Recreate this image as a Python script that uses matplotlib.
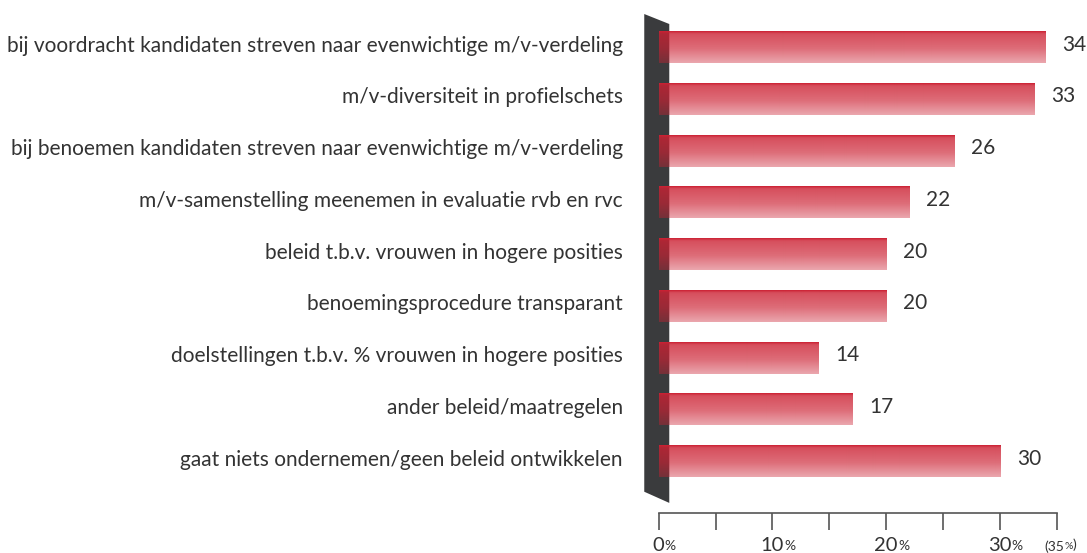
import matplotlib.pyplot as plt
import numpy as np
from matplotlib.patches import Polygon

# data, top to bottom
labels = [
    'bij voordracht kandidaten streven naar evenwichtige m/v-verdeling',
    'm/v-diversiteit in profielschets',
    'bij benoemen kandidaten streven naar evenwichtige m/v-verdeling',
    'm/v-samenstelling meenemen in evaluatie rvb en rvc',
    'beleid t.b.v. vrouwen in hogere posities',
    'benoemingsprocedure transparant',
    'doelstellingen t.b.v. % vrouwen in hogere posities',
    'ander beleid/maatregelen',
    'gaat niets ondernemen/geen beleid ontwikkelen',
]
values = [34, 33, 26, 22, 20, 20, 14, 17, 30]
tick_vals = [0, 10, 20, 30]

plt.rcParams['font.family'] = ['Lato', 'DejaVu Sans']
txt_col = '#333333'

fig = plt.figure(figsize=(10.87, 5.53), dpi=100)
# axes: x from 0 to 35 between px 658.7 and 1056.7, bottom at axis line (px 513)
ax = fig.add_axes([658.7 / 1087, 1 - 513 / 553, 398 / 1087, 513 / 553])
ax.set_xlim(0, 35)
ax.set_ylim(8.995, -0.918)

# dark backing shape
shape = Polygon([(-1.27, -0.647), (0.93, -0.454), (0.93, 8.80), (-1.27, 8.584)],
                closed=True, facecolor='#3a3b3d', edgecolor='none', zorder=1, clip_on=False)
ax.add_patch(shape)

# vertical gradient: red with decreasing alpha
n = 64
t = np.linspace(0, 1, n)
alpha = np.interp(t, [0, 0.08, 0.55, 1], [1.0, 0.8, 0.66, 0.4])
grad = np.zeros((n, 1, 4))
grad[:, 0, 0] = 0.80
grad[:, 0, 1] = 0.13
grad[:, 0, 2] = 0.20
grad[:, 0, 3] = alpha

h = 0.3
for i, v in enumerate(values):
    ax.imshow(grad, extent=[0, v, i + h, i - h], aspect='auto', zorder=2,
              interpolation='bilinear', clip_on=False)
    ax.annotate(str(v), xy=(v, i), xytext=(17, 3), textcoords='offset pixels',
                ha='left', va='center', fontsize=15, color=txt_col)
    ax.annotate(labels[i], xy=(0, i), xytext=(-36, 2), textcoords='offset pixels',
                ha='right', va='center', fontsize=15, color=txt_col,
                annotation_clip=False)

ax.set_xlim(0, 35)
ax.set_ylim(8.995, -0.918)

for s in ['top', 'right', 'left']:
    ax.spines[s].set_visible(False)
ax.spines['bottom'].set_color('#555555')
ax.spines['bottom'].set_linewidth(1.2)
ax.set_yticks([])
ax.set_xticks(np.arange(0, 36, 5))
ax.set_xticklabels([])
ax.tick_params(axis='x', direction='out', length=12, width=1.2, color='#555555')

# tick labels with small percent sign
for tv in tick_vals:
    num = ax.annotate(str(tv), xy=(tv, 0), xycoords=('data', 'axes fraction'),
                      xytext=(0, -24), textcoords='offset pixels',
                      ha='center', va='top', fontsize=14.5, color=txt_col)
    ax.annotate('%', xy=(1, 0.1), xycoords=num, ha='left', va='bottom',
                fontsize=10, color=txt_col)
lab35 = ax.annotate('(35', xy=(35, 0), xycoords=('data', 'axes fraction'),
                    xytext=(-12, -27), textcoords='offset pixels',
                    ha='left', va='top', fontsize=10, color=txt_col)
pct = ax.annotate('%', xy=(1, 0.1), xycoords=lab35, ha='left', va='bottom',
                  fontsize=7.5, color=txt_col)
ax.annotate(')', xy=(1, 0), xycoords=pct, ha='left', va='bottom',
            fontsize=10, color=txt_col)

fig.savefig('out.png', dpi=100)
